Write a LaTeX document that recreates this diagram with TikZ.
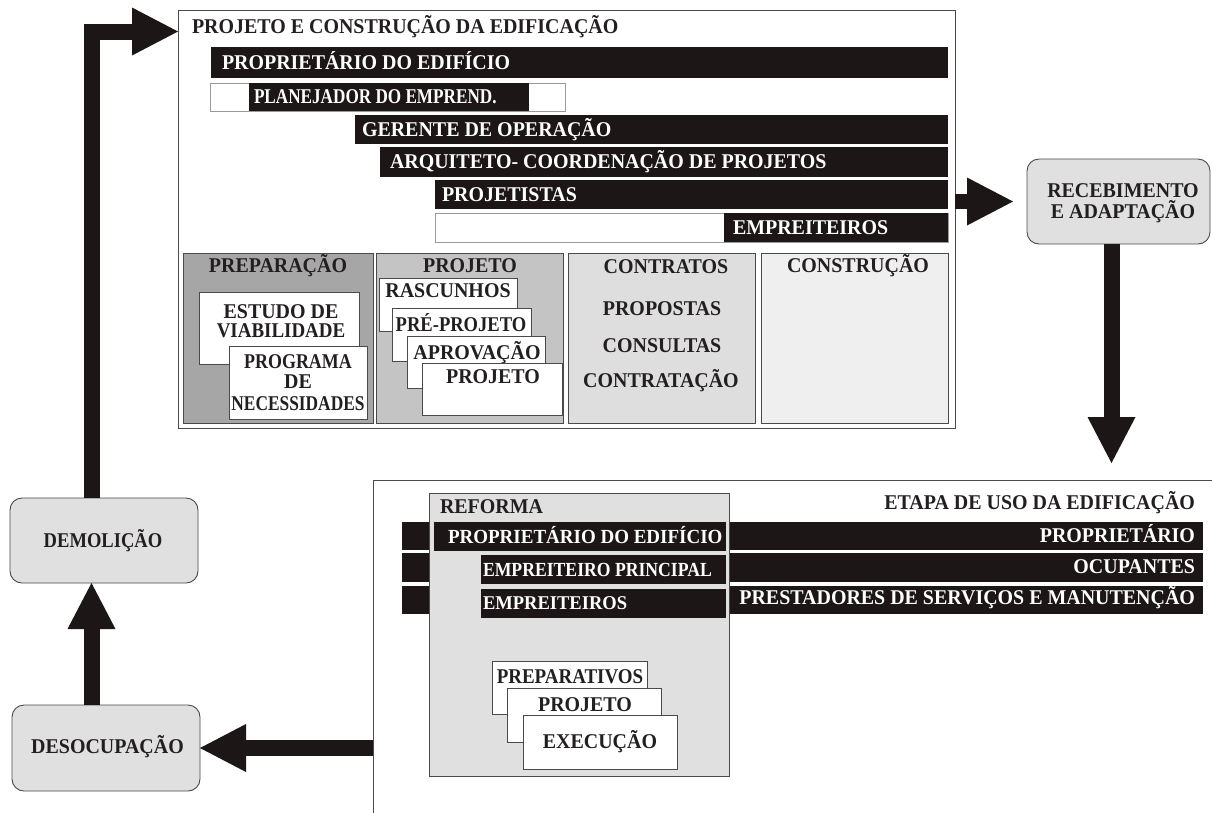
\documentclass[tikz,border=0pt]{standalone}
\usepackage{fontspec}
\setmainfont{Liberation Serif}[FakeStretch=0.95]
\usepackage{graphicx}
\usetikzlibrary{arrows.meta}

\definecolor{ink}{HTML}{231F20}
\definecolor{barblack}{HTML}{1C1616}
\definecolor{edge}{HTML}{4A4A4A}
\definecolor{faint}{HTML}{9A9A9A}
\definecolor{prepfill}{HTML}{A6A6A6}
\definecolor{projfill}{HTML}{C4C4C4}
\definecolor{contfill}{HTML}{DEDEDE}
\definecolor{constfill}{HTML}{EFEFEF}
\definecolor{stagefill}{HTML}{E0E0E0}

% box given by its top-left and bottom-right corners (y grows downwards)
\newcommand\placebox[6][]{%
  \pgfmathsetmacro\bw{#5-#3}%
  \pgfmathsetmacro\bh{#6-#4}%
  \node[#1, minimum width=\bw pt, minimum height=\bh pt, anchor=north west] (#2) at (#3,#4) {};}

\begin{document}
\begin{tikzpicture}[x=1pt, y=-1pt,
  frame/.style={draw=edge, line width=0.9pt, fill=white, inner sep=0pt, outer sep=0pt},
  bar/.style={fill=barblack, draw=none, inner sep=0pt, outer sep=0pt},
  ghost/.style={draw=faint, line width=0.7pt, fill=white, inner sep=0pt, outer sep=0pt},
  panel/.style={draw=edge, line width=0.9pt, inner sep=0pt, outer sep=0pt},
  card/.style={draw=edge, line width=0.9pt, fill=white, inner sep=0pt, outer sep=0pt},
  stage/.style={draw=edge, line width=0.9pt, fill=stagefill, rounded corners=12pt,
    inner sep=0pt, outer sep=0pt},
  txt/.style={font=\bfseries\fontsize{21}{23}\selectfont, text=ink, inner sep=0pt, outer sep=0pt},
  wtxt/.style={txt, text=white},
  flow/.style={draw=barblack, line width=16pt, line join=miter,
    -{Triangle[width=48pt, length=46pt, line width=0pt]}}
]
\useasboundingbox (0,0) rectangle (1212,812);
\fill[white] (0,0) rectangle (1212,812);
\clip (0,0) rectangle (1212,812);

% ---------- design and construction ----------
\placebox[frame]{topbox}{178}{10}{955}{428}
\node[txt, anchor=base west] (ttl-top) at (192,33) {PROJETO E CONSTRUÇÃO DA EDIFICAÇÃO};

\placebox[bar]{b-owner}{211}{47}{948}{78}
\node[wtxt, anchor=base west] (t-owner) at (222,69) {PROPRIETÁRIO DO EDIFÍCIO};

\placebox[ghost]{g-plan}{210}{83}{565}{111}
\placebox[bar]{b-plan}{249}{83}{529}{111}
\node[wtxt, anchor=base west] (t-plan) at (254,103) {\scalebox{0.86}[1]{PLANEJADOR DO EMPREND.}};

\placebox[bar]{b-mgr}{355}{115}{948}{144}
\node[wtxt, anchor=base west] (t-mgr) at (362,136) {GERENTE DE OPERAÇÃO};

\placebox[bar]{b-arch}{380}{147}{948}{177}
\node[wtxt, anchor=base west] (t-arch) at (390,168) {ARQUITETO- COORDENAÇÃO DE PROJETOS};

\placebox[bar]{b-des}{435}{180}{948}{209}
\node[wtxt, anchor=base west] (t-des) at (442,201) {PROJETISTAS};

\placebox[ghost]{g-con}{435}{213}{948}{242}
\placebox[bar]{b-con}{724}{213}{948}{242}
\node[wtxt, anchor=base west] (t-con) at (733,234) {EMPREITEIROS};

% preparation
\placebox[panel, fill=prepfill]{p-prep}{183}{253}{373}{423}
\node[txt, anchor=base] (t-prep) at (278,272) {PREPARAÇÃO};
\placebox[card]{c-est}{199}{292}{359}{364}
\node[txt, anchor=base] (t-est1) at (281,318) {ESTUDO DE};
\node[txt, anchor=base] (t-est2) at (281,337) {\scalebox{0.95}[1]{VIABILIDADE}};
\placebox[card]{c-prog}{229}{346}{367}{419}
\node[txt, anchor=base] (t-prog1) at (298,368) {\scalebox{0.9}[1]{PROGRAMA}};
\node[txt, anchor=base] (t-prog2) at (298,388) {DE};
\node[txt, anchor=base] (t-prog3) at (298,410) {\scalebox{0.87}[1]{NECESSIDADES}};

% design
\placebox[panel, fill=projfill]{p-proj}{376}{253}{563}{423}
\node[txt, anchor=base] (t-proj) at (470,272) {PROJETO};
\placebox[card]{c-r1}{379}{278}{517}{331}
\node[txt, anchor=base] (t-r1) at (448,297) {RASCUNHOS};
\placebox[card]{c-r2}{392}{308}{531}{361}
\node[txt, anchor=base] (t-r2) at (461,331) {\scalebox{0.93}[1]{PRÉ-PROJETO}};
\placebox[card]{c-r3}{407}{336}{545}{388}
\node[txt, anchor=base] (t-r3) at (477,359) {APROVAÇÃO};
\placebox[card]{c-r4}{422}{363}{562}{415}
\node[txt, anchor=base] (t-r4) at (493,383) {PROJETO};

% contracts
\placebox[panel, fill=contfill]{p-cont}{568}{253}{755}{423}
\node[txt, anchor=base] (t-cont) at (666,273) {CONTRATOS};
\node[txt, anchor=base] (t-c1) at (662,315) {PROPOSTAS};
\node[txt, anchor=base] (t-c2) at (662,352) {CONSULTAS};
\node[txt, anchor=base] (t-c3) at (661,387) {CONTRATAÇÃO};

% construction
\placebox[panel, fill=constfill]{p-const}{761}{253}{948}{423}
\node[txt, anchor=base] (t-const) at (858,272) {CONSTRUÇÃO};

% ---------- cycle stages ----------
\node[stage, minimum width=183pt, minimum height=85pt] (receb) at (1118.5,201.5) {};
\node[txt, anchor=base] (t-receb1) at (1123,197) {RECEBIMENTO};
\node[txt, anchor=base] (t-receb2) at (1123,218) {E ADAPTAÇÃO};

\node[stage, minimum width=188pt, minimum height=85pt] (demol) at (104,540.5) {};
\node[txt, anchor=base] (t-demol) at (103,547) {\scalebox{0.93}[1]{DEMOLIÇÃO}};

\node[stage, minimum width=188pt, minimum height=86pt] (desoc) at (106,748) {};
\node[txt, anchor=base] (t-desoc) at (107.5,753) {DESOCUPAÇÃO};

% ---------- use stage ----------
\placebox[frame]{usebox}{373}{480}{1240}{840}
\node[txt, anchor=base east] (ttl-use) at (1195,509) {ETAPA DE USO DA EDIFICAÇÃO};

\placebox[bar]{u-owner}{402}{522}{1203}{550}
\placebox[bar]{u-occ}{402}{553}{1203}{582}
\placebox[bar]{u-serv}{402}{586}{1203}{614}
\node[wtxt, anchor=base east] (t-uowner) at (1195,542) {PROPRIETÁRIO};
\node[wtxt, anchor=base east] (t-uocc) at (1195,573) {OCUPANTES};
\node[wtxt, anchor=base east] (t-userv) at (1195,604) {PRESTADORES DE SERVIÇOS E MANUTENÇÃO};

% renovation
\placebox[panel, fill=stagefill]{reforma}{429}{493}{729}{776}
\node[txt, anchor=base west] (t-ref) at (440,513) {REFORMA};
\placebox[bar]{r-owner}{434}{522}{726}{551}
\node[wtxt, anchor=base west] (t-rowner) at (448,543) {\fontsize{20}{22}\selectfont PROPRIETÁRIO DO EDIFÍCIO};
\placebox[bar]{r-main}{481}{555}{726}{584}
\node[wtxt, anchor=base west] (t-rmain) at (483,576) {\fontsize{20}{22}\selectfont\scalebox{0.93}[1]{EMPREITEIRO PRINCIPAL}};
\placebox[bar]{r-sub}{481}{589}{726}{618}
\node[wtxt, anchor=base west] (t-rsub) at (483,609) {\fontsize{19.5}{22}\selectfont EMPREITEIROS};

\placebox[card]{s1}{492}{661}{647}{714}
\node[txt, anchor=base] (t-s1) at (570,683) {\scalebox{0.95}[1]{PREPARATIVOS}};
\placebox[card]{s2}{507}{688}{661}{742}
\node[txt, anchor=base] (t-s2) at (585,711) {PROJETO};
\placebox[card]{s3}{523}{715}{677}{769}
\node[txt, anchor=base] (t-s3) at (600,748) {EXECUÇÃO};

% ---------- life-cycle arrows ----------
\coordinate (upx) at (91.5,0);
\coordinate (dnx) at (1111.5,0);
\draw[flow] (demol.north -| upx) |- ([yshift=-21.5pt]topbox.north west);
\draw[flow] (desoc.north -| upx) -- (demol.south -| upx);
\draw[flow] (usebox.west |- desoc.east) -- (desoc.east);
\draw[flow, line width=15pt, shorten >=14pt] (topbox.east |- receb.west) -- (receb.west);
\draw[flow, shorten >=17pt] (receb.south -| dnx) -- (usebox.north -| dnx);
\end{tikzpicture}
\end{document}
